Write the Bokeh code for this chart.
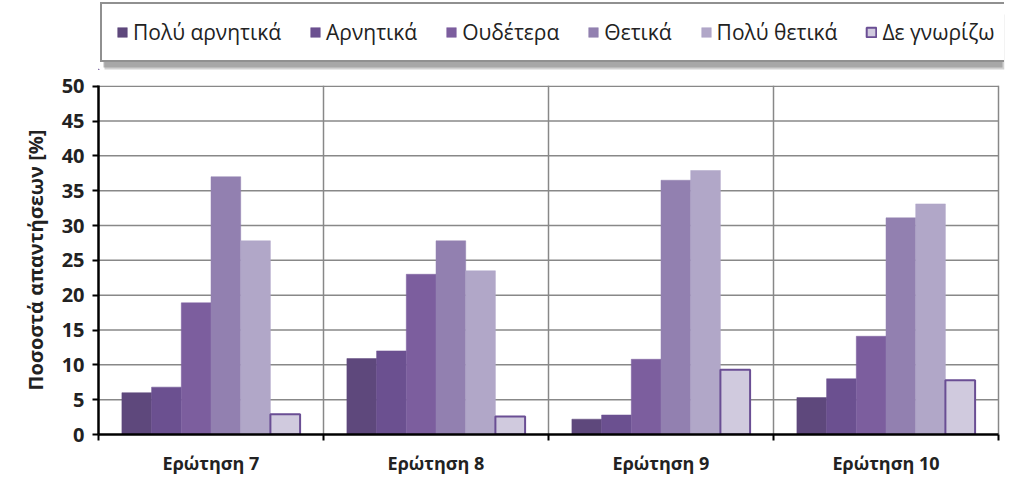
from bokeh.plotting import figure
from bokeh.models import FixedTicker, Legend, LegendItem, Range1d, ColumnDataSource, BoxAnnotation
from bokeh.layouts import column
from bokeh.embed import file_html
from bokeh.resources import INLINE

categories = ["Ερώτηση 7", "Ερώτηση 8", "Ερώτηση 9", "Ερώτηση 10"]
series_names = ["Πολύ αρνητικά", "Αρνητικά", "Ουδέτερα", "Θετικά", "Πολύ θετικά", "Δε γνωρίζω"]
very_negative = [6.0, 10.9, 2.2, 5.3]
negative = [6.8, 12.0, 2.8, 8.0]
neutral = [18.9, 23.0, 10.8, 14.1]
positive = [37.0, 27.8, 36.5, 31.1]
very_positive = [27.8, 23.5, 37.9, 33.1]
dont_know = [2.9, 2.6, 9.3, 7.8]
y_ticks = [0, 5, 10, 15, 20, 25, 30, 35, 40, 45, 50]

series_values = [very_negative, negative, neutral, positive, very_positive, dont_know]
fills = ["#5e487c", "#6b5090", "#7c5e9e", "#9280b0", "#b1a7c8", "#d0cade"]
lines = [None, None, None, None, None, "#6a4e94"]

FONT = "Open Sans"
W = 1016
FRAME_L = 98
FRAME_R = 1004
PX_PER_CAT = 225.0

# ---------------- legend strip ----------------
LH = 70
leg = figure(width=W, height=LH, output_backend="svg", toolbar_location=None,
             x_range=Range1d(FRAME_L, FRAME_R), y_range=Range1d(0, LH),
             min_border=0, min_border_left=FRAME_L, min_border_right=W - FRAME_R,
             x_axis_type=None, y_axis_type=None)
leg.outline_line_color = None
leg.xgrid.visible = False
leg.ygrid.visible = False

items = []
for k, name in enumerate(series_names):
    r = leg.vbar(x=[-5000], top=[1], width=1, fill_color=fills[k],
                 line_color=lines[k] if lines[k] else fills[k],
                 line_width=2 if lines[k] else 0.5)
    items.append(LegendItem(label=name, renderers=[r]))

# soft shadow behind the legend box
leg.add_layout(BoxAnnotation(left=104, right=1004, bottom=1, top=56,
                             fill_color="#bdbdbd", fill_alpha=0.7, line_color=None))
leg.add_layout(BoxAnnotation(left=103, right=1002, bottom=3, top=58,
                             fill_color="#8a8a8a", fill_alpha=0.6, line_color=None))

legend = Legend(items=items, orientation="horizontal", location=(2, 8))
legend.label_text_font = FONT
legend.label_text_font_size = "21px"
legend.label_text_color = "#222222"
legend.glyph_width = 12
legend.glyph_height = 12
legend.label_standoff = 5
legend.spacing = 28
legend.padding = 14
legend.margin = 0
legend.border_line_color = "#222222"
legend.border_line_width = 2
legend.background_fill_color = "white"
legend.background_fill_alpha = 1
leg.add_layout(legend, "center")

# ---------------- main chart ----------------
TOP = 15
H = 407
BOTTOM = 39
ncat = len(categories)

p = figure(width=W, height=H, output_backend="svg", toolbar_location=None,
           x_range=Range1d(0, ncat + (FRAME_R - FRAME_L - ncat * PX_PER_CAT) / PX_PER_CAT),
           y_range=Range1d(0, 50.1),
           min_border_left=FRAME_L, min_border_right=W - FRAME_R,
           min_border_bottom=BOTTOM, min_border_top=TOP)
p.outline_line_color = None
p.background_fill_color = "white"

# horizontal grid lines, limited to the category span
grid_y = y_ticks[1:]
p.segment(x0=[0] * len(grid_y), y0=grid_y, x1=[ncat] * len(grid_y), y1=grid_y,
          line_color="#888888", line_width=1.5)

bar_w = 0.132
n = len(series_names)
for k, (name, vals) in enumerate(zip(series_names, series_values)):
    xs = [i + 0.5 + (k - (n - 1) / 2) * bar_w for i in range(ncat)]
    src = ColumnDataSource(dict(x=xs, top=vals))
    p.vbar(x="x", top="top", bottom=0, width=bar_w, source=src,
           fill_color=fills[k],
           line_color=lines[k] if lines[k] else fills[k],
           line_width=2 if lines[k] else 0.5)

p.yaxis.ticker = FixedTicker(ticks=y_ticks)
p.yaxis.axis_line_width = 2.5
p.yaxis.axis_line_color = "black"
p.yaxis.major_tick_line_width = 2
p.yaxis.major_tick_line_color = "black"
p.yaxis.major_tick_out = 6
p.yaxis.major_tick_in = 0
p.yaxis.minor_tick_line_color = None
p.yaxis.major_label_text_font = FONT
p.yaxis.major_label_text_font_style = "bold"
p.yaxis.major_label_text_font_size = "20px"
p.yaxis.major_label_text_color = "#222222"
p.yaxis.major_label_standoff = 8
p.yaxis.axis_label = "Ποσοστά απαντήσεων [%]"
p.yaxis.axis_label_text_font = FONT
p.yaxis.axis_label_text_font_style = "bold"
p.yaxis.axis_label_text_font_size = "20px"
p.yaxis.axis_label_text_color = "#222222"
p.yaxis.axis_label_standoff = 10

centers = [i + 0.5 for i in range(ncat)]
p.xaxis.ticker = FixedTicker(ticks=centers, minor_ticks=list(range(ncat + 1)))
p.xaxis.bounds = (0, ncat)
p.xaxis.major_label_overrides = {c: lab for c, lab in zip(centers, categories)}
p.xaxis.major_tick_line_color = None
p.xaxis.minor_tick_line_color = "black"
p.xaxis.minor_tick_line_width = 2
p.xaxis.minor_tick_out = 6
p.xaxis.minor_tick_in = 0
p.xaxis.axis_line_width = 2.5
p.xaxis.axis_line_color = "black"
p.xaxis.major_label_text_font = FONT
p.xaxis.major_label_text_font_style = "bold"
p.xaxis.major_label_text_font_size = "18px"
p.xaxis.major_label_text_color = "#222222"
p.xaxis.major_label_standoff = 10

p.ygrid.visible = False
p.xgrid.ticker = FixedTicker(ticks=list(range(1, ncat + 1)))
p.xgrid.grid_line_color = "#888888"
p.xgrid.grid_line_width = 1.5

layout = column(leg, p, spacing=0)
open("out.html", "w").write(file_html(layout, INLINE))
